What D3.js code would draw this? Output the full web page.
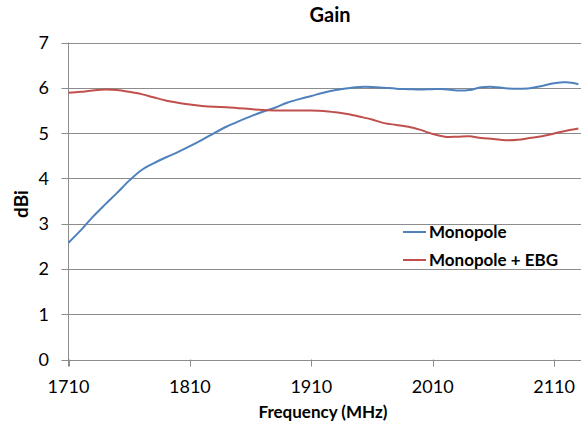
<!DOCTYPE html>
<html lang="en">
<head>
  <meta charset="UTF-8" />
  <title>Gain</title>
  <script src="https://d3js.org/d3.v7.min.js"></script>
  <style>
    body {
      background-color: white;
      margin: 0;
      font-family: Lato, sans-serif;
    }

    svg {
      display: block;
    }

    .grid line {
      stroke: #8c8c8c;
      stroke-width: 1px;
    }

    .tick-label {
      font-size: 18px;
      fill: #000;
    }

    .title {
      font-size: 20px;
      font-weight: bold;
    }

    .axis-title {
      font-size: 17px;
      font-weight: bold;
    }

    .legend text {
      font-size: 17px;
      font-weight: bold;
    }
  </style>
</head>
<body>
  <svg></svg>

  <script>
    const width = 581;
    const height = 425;

    // frequency in MHz, one sample every 10 MHz
    const freqs = d3.range(1710, 2131, 10);
    const monopole = [
      2.58, 2.85, 3.15, 3.42, 3.68, 3.95, 4.18, 4.33, 4.46, 4.58,
      4.71, 4.85, 5.00, 5.14, 5.26, 5.37, 5.47, 5.56, 5.67, 5.75,
      5.82, 5.89, 5.95, 5.99, 6.02, 6.02, 6.00, 5.98, 5.97, 5.96,
      5.97, 5.97, 5.94, 5.95, 6.01, 6.02, 5.99, 5.98, 5.99, 6.04,
      6.10, 6.12, 6.08
    ];
    const monopoleEbg = [
      5.89, 5.91, 5.94, 5.96, 5.95, 5.91, 5.86, 5.79, 5.72, 5.67,
      5.63, 5.60, 5.58, 5.57, 5.55, 5.53, 5.51, 5.50, 5.50, 5.50,
      5.50, 5.49, 5.46, 5.42, 5.36, 5.30, 5.22, 5.18, 5.14, 5.07,
      4.98, 4.92, 4.92, 4.93, 4.89, 4.87, 4.84, 4.85, 4.89, 4.93,
      4.99, 5.05, 5.10
    ];
    const xTicks = [1710, 1810, 1910, 2010, 2110];
    const yTicks = [0, 1, 2, 3, 4, 5, 6, 7];
    const seriesNames = ["Monopole", "Monopole + EBG"];
    const colors = ["#4f81bd", "#c0504d"];

    const plotLeft = 68.5, plotRight = 581, plotTop = 42.5, plotBottom = 359.5;

    const svg = d3.select("svg")
      .attr("width", width)
      .attr("height", height);

    const x = d3.scaleLinear()
      .domain([1710, 1710 + (plotRight - plotLeft) / 1.214])
      .range([plotLeft, plotRight]);

    const y = d3.scaleLinear()
      .domain([0, 7])
      .range([plotBottom, plotTop]);

    // horizontal gridlines
    svg.append("g")
      .attr("class", "grid")
      .selectAll("line")
      .data(yTicks)
      .enter().append("line")
      .attr("x1", plotLeft - 7)
      .attr("x2", plotRight)
      .attr("y1", d => Math.round(y(d)) + 0.5)
      .attr("y2", d => Math.round(y(d)) + 0.5);

    // y axis line
    svg.append("line")
      .attr("x1", plotLeft).attr("x2", plotLeft)
      .attr("y1", plotTop).attr("y2", plotBottom + 7)
      .attr("stroke", "#8c8c8c");

    // x tick marks
    svg.append("g")
      .attr("class", "grid")
      .selectAll("line")
      .data(xTicks)
      .enter().append("line")
      .attr("x1", d => Math.round(x(d)) + 0.5)
      .attr("x2", d => Math.round(x(d)) + 0.5)
      .attr("y1", plotBottom)
      .attr("y2", plotBottom + 7);

    svg.append("g")
      .selectAll("text")
      .data(yTicks)
      .enter().append("text")
      .attr("class", "tick-label")
      .attr("x", 49)
      .attr("y", d => y(d))
      .attr("dy", "0.36em")
      .attr("text-anchor", "end")
      .text(d => d);

    svg.append("g")
      .selectAll("text")
      .data(xTicks)
      .enter().append("text")
      .attr("class", "tick-label")
      .attr("x", d => x(d))
      .attr("y", 393)
      .attr("text-anchor", "middle")
      .text(d => d);

    // lines
    const line = d3.line()
      .x((d, i) => x(freqs[i]))
      .y(d => y(d))
      .curve(d3.curveCatmullRom);

    [monopole, monopoleEbg].forEach((vals, i) => {
      svg.append("path")
        .datum(vals)
        .attr("fill", "none")
        .attr("stroke", colors[i])
        .attr("stroke-width", 2)
        .attr("d", line);
    });

    // titles
    svg.append("text")
      .attr("class", "title")
      .attr("x", 330)
      .attr("y", 22)
      .attr("text-anchor", "middle")
      .text("Gain");

    svg.append("text")
      .attr("class", "axis-title")
      .attr("x", 323)
      .attr("y", 418)
      .attr("text-anchor", "middle")
      .text("Frequency (MHz)");

    svg.append("text")
      .attr("class", "axis-title")
      .style("font-size", "19px")
      .attr("transform", "translate(28,204) rotate(-90)")
      .attr("text-anchor", "middle")
      .text("dBi");

    // legend
    const legend = svg.append("g")
      .attr("class", "legend")
      .selectAll("g")
      .data(seriesNames)
      .enter().append("g")
      .attr("transform", (d, i) => `translate(403,${232 + i * 28})`);

    legend.append("line")
      .attr("x1", 0).attr("x2", 23)
      .attr("stroke", (d, i) => colors[i])
      .attr("stroke-width", 2);

    legend.append("text")
      .attr("x", 26)
      .attr("dy", "0.35em")
      .text(d => d);
  </script>
</body>
</html>
